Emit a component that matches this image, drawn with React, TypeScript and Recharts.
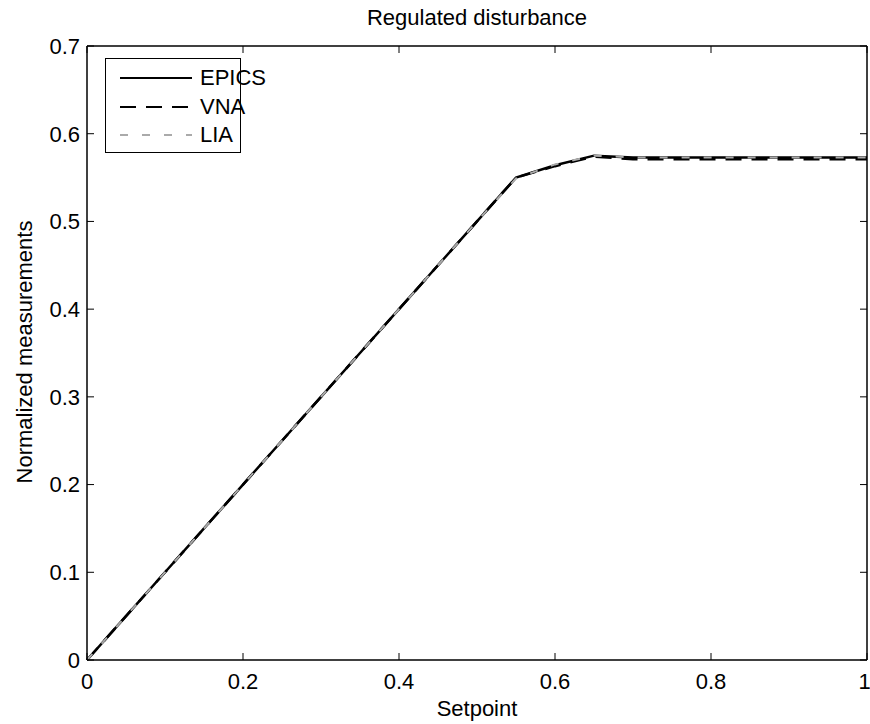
import { LineChart, Line, XAxis, YAxis } from "recharts"

const setpoints = [0, 0.05, 0.1, 0.15, 0.2, 0.25, 0.3, 0.35, 0.4, 0.45, 0.5, 0.55, 0.6, 0.65, 0.7, 0.75, 0.8, 0.85, 0.9, 0.95, 1]
const epics = [0, 0.05, 0.1, 0.15, 0.2, 0.25, 0.3, 0.35, 0.4, 0.45, 0.5, 0.55, 0.564, 0.575, 0.573, 0.573, 0.573, 0.573, 0.573, 0.573, 0.573]
const vna = [0, 0.05, 0.1, 0.15, 0.2, 0.25, 0.3, 0.35, 0.4, 0.45, 0.5, 0.55, 0.563, 0.574, 0.571, 0.571, 0.571, 0.571, 0.571, 0.571, 0.571]
const lia = [0, 0.05, 0.1, 0.15, 0.2, 0.25, 0.3, 0.35, 0.4, 0.45, 0.5, 0.549, 0.565, 0.575, 0.573, 0.573, 0.573, 0.573, 0.573, 0.573, 0.573]
const xTicks = [0, 0.2, 0.4, 0.6, 0.8, 1]
const yTicks = [0, 0.1, 0.2, 0.3, 0.4, 0.5, 0.6, 0.7]

const data = setpoints.map((s, i) => ({ s, EPICS: epics[i], VNA: vna[i], LIA: lia[i] }))

const font = "'Liberation Sans', Arial, sans-serif"
const tickStyle = { fill: "#000", fontSize: 22, fontFamily: font }
const axisLine = { stroke: "#000", strokeWidth: 1.5 }

// legend entries: name, stroke, dash
const legendItems = [
  { name: "EPICS", stroke: "#000", dash: undefined },
  { name: "VNA", stroke: "#000", dash: "16 10" },
  { name: "LIA", stroke: "#aaa", dash: "8 14" },
]

const LegendBox = () => (
  <div style={{ position: "absolute", left: 105, top: 58, width: 136, height: 95, boxSizing: "border-box", border: "1.5px solid #000", background: "#fff", fontFamily: font, fontSize: 22 }}>
    {legendItems.map((it, i) => (
      <div key={it.name} style={{ position: "absolute", left: 0, top: 6 + i * 28.5, height: 26, display: "flex", alignItems: "center" }}>
        <svg width={72} height={10} style={{ marginLeft: 14 }}>
          <line x1={0} y1={5} x2={72} y2={5} stroke={it.stroke} strokeWidth={2} strokeDasharray={it.dash} />
        </svg>
        <span style={{ marginLeft: 8 }}>{it.name}</span>
      </div>
    ))}
  </div>
)

export default function App() {
  return (
    <div style={{ position: "absolute", left: 0, top: 0, width: 870, height: 724, background: "#fff" }}>
      <LineChart width={870} height={724} data={data} margin={{ top: 45, right: 2, bottom: 0, left: 0 }}>
        <XAxis
          dataKey="s"
          type="number"
          domain={[0, 1]}
          ticks={xTicks}
          height={64}
          tickSize={-7}
          tickMargin={20}
          axisLine={axisLine}
          tickLine={{ stroke: "#000" }}
          tick={tickStyle}
          label={{
            content: () => (
              <text x={477} y={716} textAnchor="middle" fontSize={22} fontFamily={font} fill="#000">Setpoint</text>
            ),
          }}
        />
        <XAxis
          xAxisId="top"
          orientation="top"
          dataKey="s"
          type="number"
          domain={[0, 1]}
          ticks={xTicks}
          height={1}
          tickSize={-7}
          tickFormatter={() => ""}
          axisLine={axisLine}
          tickLine={{ stroke: "#000" }}
          label={{
            content: () => (
              <text x={477} y={25} textAnchor="middle" fontSize={22} fontFamily={font} fill="#000">Regulated disturbance</text>
            ),
          }}
        />
        <YAxis
          type="number"
          domain={[0, 0.7]}
          ticks={yTicks}
          width={87}
          tickSize={-7}
          tickMargin={14}
          axisLine={axisLine}
          tickLine={{ stroke: "#000" }}
          tick={tickStyle}
          interval={0}
          label={{
            content: () => (
              <text x={32} y={352} transform="rotate(-90 32 352)" textAnchor="middle" fontSize={22} fontFamily={font} fill="#000">Normalized measurements</text>
            ),
          }}
        />
        <YAxis
          yAxisId="right"
          orientation="right"
          type="number"
          domain={[0, 0.7]}
          ticks={yTicks}
          width={1}
          tickSize={-7}
          tickFormatter={() => ""}
          axisLine={axisLine}
          tickLine={{ stroke: "#000" }}
          interval={0}
        />
        <Line dataKey="VNA" stroke="#000" strokeWidth={2.5} strokeDasharray="16 10" dot={false} isAnimationActive={false} />
        <Line dataKey="EPICS" stroke="#000" strokeWidth={2.5} dot={false} isAnimationActive={false} />
        <Line dataKey="LIA" xAxisId="top" yAxisId="right" stroke="#aaa" strokeWidth={2} strokeDasharray="8 14" dot={false} isAnimationActive={false} />
      </LineChart>
      <LegendBox />
    </div>
  )
}
